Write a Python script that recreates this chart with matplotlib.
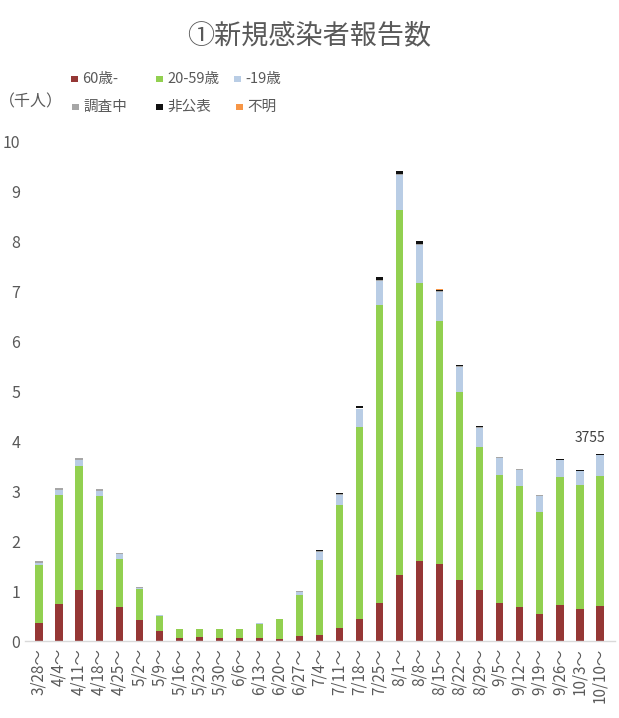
import matplotlib
matplotlib.use("Agg")
import matplotlib.pyplot as plt
import numpy as np
from matplotlib.patches import Rectangle

plt.rcParams['font.family'] = ['Noto Sans CJK JP', 'DejaVu Sans']

categories = ["3/28", "4/4", "4/11", "4/18", "4/25", "5/2", "5/9", "5/16", "5/23", "5/30",
              "6/6", "6/13", "6/20", "6/27", "7/4", "7/11", "7/18", "7/25", "8/1", "8/8",
              "8/15", "8/22", "8/29", "9/5", "9/12", "9/19", "9/26", "10/3", "10/10"]
tick_labels = [c + "～" for c in categories]

# values in thousands of people
age60 = [0.37, 0.75, 1.03, 1.03, 0.69, 0.42, 0.21, 0.07, 0.09, 0.07, 0.06, 0.06, 0.04, 0.10,
         0.12, 0.27, 0.45, 0.77, 1.32, 1.61, 1.55, 1.22, 1.03, 0.77, 0.69, 0.55, 0.72, 0.64, 0.70]
age20_59 = [1.15, 2.18, 2.47, 1.88, 0.96, 0.62, 0.29, 0.17, 0.15, 0.17, 0.18, 0.29, 0.40, 0.82,
            1.51, 2.45, 3.84, 5.95, 7.30, 5.56, 4.85, 3.77, 2.86, 2.55, 2.41, 2.04, 2.57, 2.48, 2.61]
age19 = [0.05, 0.10, 0.13, 0.09, 0.09, 0.03, 0.02, 0.01, 0.01, 0.01, 0.01, 0.01, 0.01, 0.06,
         0.16, 0.21, 0.36, 0.48, 0.71, 0.76, 0.58, 0.50, 0.38, 0.35, 0.33, 0.32, 0.33, 0.28, 0.41]
chousachu = [0.03, 0.04, 0.04, 0.04, 0.03, 0.02, 0.01, 0.00, 0.00, 0.00, 0.00, 0.00, 0.00, 0.02,
             0.02, 0.02, 0.02, 0.02, 0.02, 0.02, 0.02, 0.01, 0.01, 0.01, 0.01, 0.01, 0.01, 0.01, 0.01]
hikouhyou = [0.00, 0.00, 0.00, 0.00, 0.00, 0.00, 0.00, 0.00, 0.00, 0.00, 0.00, 0.00, 0.00, 0.00,
             0.01, 0.02, 0.03, 0.05, 0.05, 0.05, 0.03, 0.02, 0.02, 0.01, 0.01, 0.01, 0.01, 0.01, 0.02]
fumei = [0.00, 0.00, 0.00, 0.00, 0.00, 0.00, 0.00, 0.00, 0.00, 0.00, 0.00, 0.00, 0.00, 0.00,
         0.00, 0.00, 0.00, 0.00, 0.00, 0.00, 0.02, 0.00, 0.00, 0.00, 0.00, 0.00, 0.00, 0.00, 0.00]
last_total = 3755

series_names = ["60歳-", "20-59歳", "-19歳", "調査中", "非公表", "不明"]
series_values = [age60, age20_59, age19, chousachu, hikouhyou, fumei]
series_colors = ["#953735", "#92D050", "#B9CDE5", "#A6A6A6", "#111111", "#F79646"]

fig = plt.figure(figsize=(6.19, 7.18), dpi=100)
W, H = 619, 718
ax = fig.add_axes([25 / W, 1 - 641 / H, 590 / W, 500 / H])

x = np.arange(len(categories))
bottom = np.zeros(len(categories))
for name, vals, col in zip(series_names, series_values, series_colors):
    v = np.array(vals)
    ax.bar(x, v, bottom=bottom, width=0.36, color=col, linewidth=0)
    bottom += v

ax.set_xlim(-0.7, 28.75)
ax.set_ylim(0, 10)
ax.set_yticks(range(0, 11))
ax.set_xticks(x)
ax.set_xticklabels(tick_labels, rotation=90, fontsize=11, color="#595959")
ax.tick_params(axis='y', length=0, labelsize=11.5, labelcolor="#595959", pad=3.5)
ax.tick_params(axis='x', length=0, pad=5)
for s in ["top", "right", "left"]:
    ax.spines[s].set_visible(False)
ax.spines["bottom"].set_color("#D9D9D9")
ax.spines["bottom"].set_linewidth(1.0)

ax.annotate(str(last_total), xy=(x[-1], bottom[-1]), xytext=(-7, 6),
            textcoords="offset points", ha="center", va="bottom",
            fontsize=10, color="#404040")

fig.text(0.5, 1 - 36 / H, "①新規感染者報告数", ha="center", va="center",
         fontsize=19.5, color="#595959")
fig.text(-1 / W, 1 - 102 / H, "（千人）", ha="left", va="center",
         fontsize=11.5, color="#595959")

# manual legend (two rows of three)
legend_layout = [(0, 71, 79), (1, 156, 79), (2, 234, 79),
                 (3, 72, 107), (4, 156, 107), (5, 236, 107)]
sq = 6.5
for idx, px, py in legend_layout:
    fig.add_artist(Rectangle((px / W, 1 - (py + sq / 2) / H), sq / W, sq / H,
                             transform=fig.transFigure, facecolor=series_colors[idx],
                             edgecolor="none"))
    fig.text((px + sq + 4.5) / W, 1 - py / H, series_names[idx], ha="left", va="center",
             fontsize=10.5, color="#595959")

fig.savefig("out.png", dpi=100, facecolor="white")
